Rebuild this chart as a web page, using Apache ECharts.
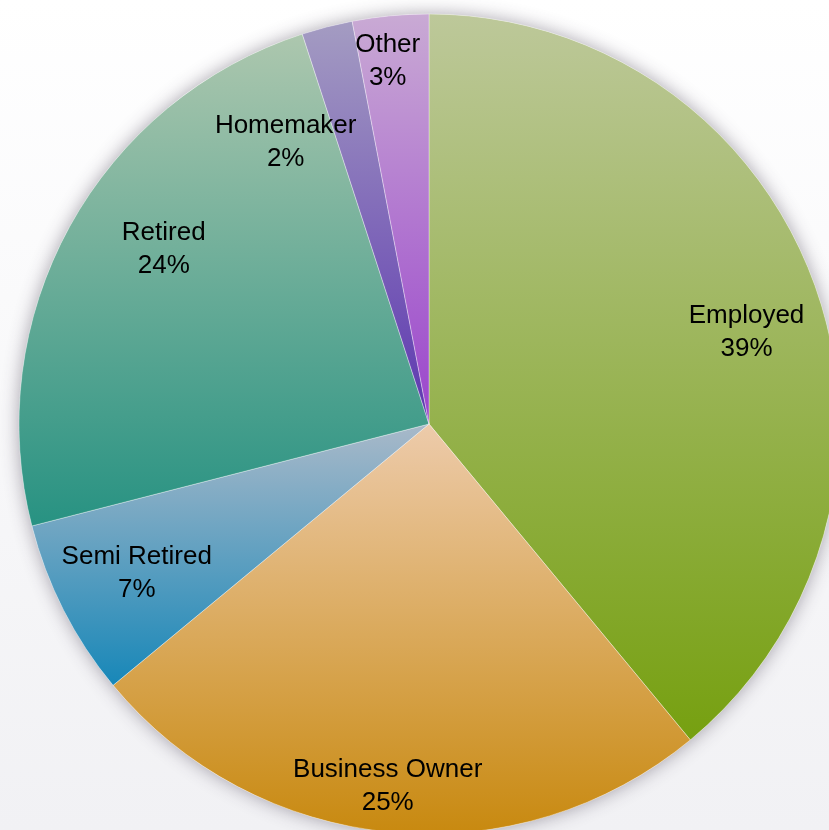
<!DOCTYPE html>
<html>
<head>
<meta charset="utf-8">
<script src="https://cdn.jsdelivr.net/npm/echarts@6/dist/echarts.min.js"></script>
<style>
	html, body { margin: 0; padding: 0; background: #fff; }
	#chart { width: 829px; height: 830px; }
</style>
</head>
<body>
<div id="chart"></div>
<script>
// data
var categories = [ 'Employed', 'Business Owner', 'Semi Retired', 'Retired', 'Homemaker', 'Other' ];
var shares = [ 39, 25, 7, 24, 2, 3 ];

// slice gradient colours (top, bottom)
var topColors = [ '#bdc89a', '#edcbab', '#a9b9c9', '#adc7ae', '#a49cc2', '#c9aad4' ];
var bottomColors = [ '#76a010', '#c8890f', '#1787b8', '#279282', '#5c36b0', '#9a44cc' ];

// label placement: fraction of radius and angle shift (deg) from slice middle
var labelRadius = [ 0.806, 0.89, 0.80, 0.775, 0.77, 0.89 ];
var labelShift = [ 3.7, 1.1, 0, 4.6, -12.6, -1.1 ];

var cx = 429, cy = 424, R = 410;

var chart = echarts.init(document.getElementById('chart'));

var total = 0;
for (var i = 0; i < shares.length; i++) total += shares[i];

var pieData = [];
for (var i = 0; i < categories.length; i++) {
	pieData.push({
		name : categories[i],
		value : shares[i],
		itemStyle : {
			color : new echarts.graphic.LinearGradient(0, 0, 0, 1, [
				{ offset : 0, color : topColors[i] },
				{ offset : 1, color : bottomColors[i] }
			])
		}
	});
}

function midAngle(idx) {
	var before = 0;
	for (var k = 0; k < idx; k++) before += shares[k];
	return (before + shares[idx] / 2) / total * 360;
}

var option = {
	backgroundColor : new echarts.graphic.LinearGradient(0, 0, 0, 1, [
		{ offset : 0, color : '#ffffff' },
		{ offset : 1, color : '#f1f1f4' }
	]),
	animation : false,
	series : [ {
		// shadow under the pie
		type : 'pie',
		center : [ cx, cy ],
		radius : [ 0, R ],
		silent : true,
		z : 1,
		label : { show : false },
		labelLine : { show : false },
		itemStyle : {
			color : '#ffffff',
			shadowBlur : 18,
			shadowColor : 'rgba(60,50,70,0.45)'
		},
		data : [ { name : 'bg', value : 1 } ]
	}, {
		name : 'Occupation',
		type : 'pie',
		center : [ cx, cy ],
		radius : [ 0, R ],
		startAngle : 90,
		clockwise : true,
		z : 2,
		itemStyle : {
			borderColor : 'rgba(255,255,255,0.35)',
			borderWidth : 1
		},
		label : {
			show : true,
			position : 'inside',
			formatter : '{b}\n{c}%',
			color : '#000',
			fontFamily : '"Liberation Sans", Arial, sans-serif',
			fontSize : 26,
			lineHeight : 33,
			align : 'center'
		},
		labelLayout : function(params) {
			var idx = params.dataIndex;
			var ang = (midAngle(idx) + labelShift[idx]) * Math.PI / 180;
			var d = labelRadius[idx] * R;
			return {
				x : cx + Math.sin(ang) * d,
				y : cy - Math.cos(ang) * d,
				align : 'center',
				verticalAlign : 'middle'
			};
		},
		labelLine : { show : false },
		data : pieData
	} ]
};

chart.setOption(option);
</script>
</body>
</html>
